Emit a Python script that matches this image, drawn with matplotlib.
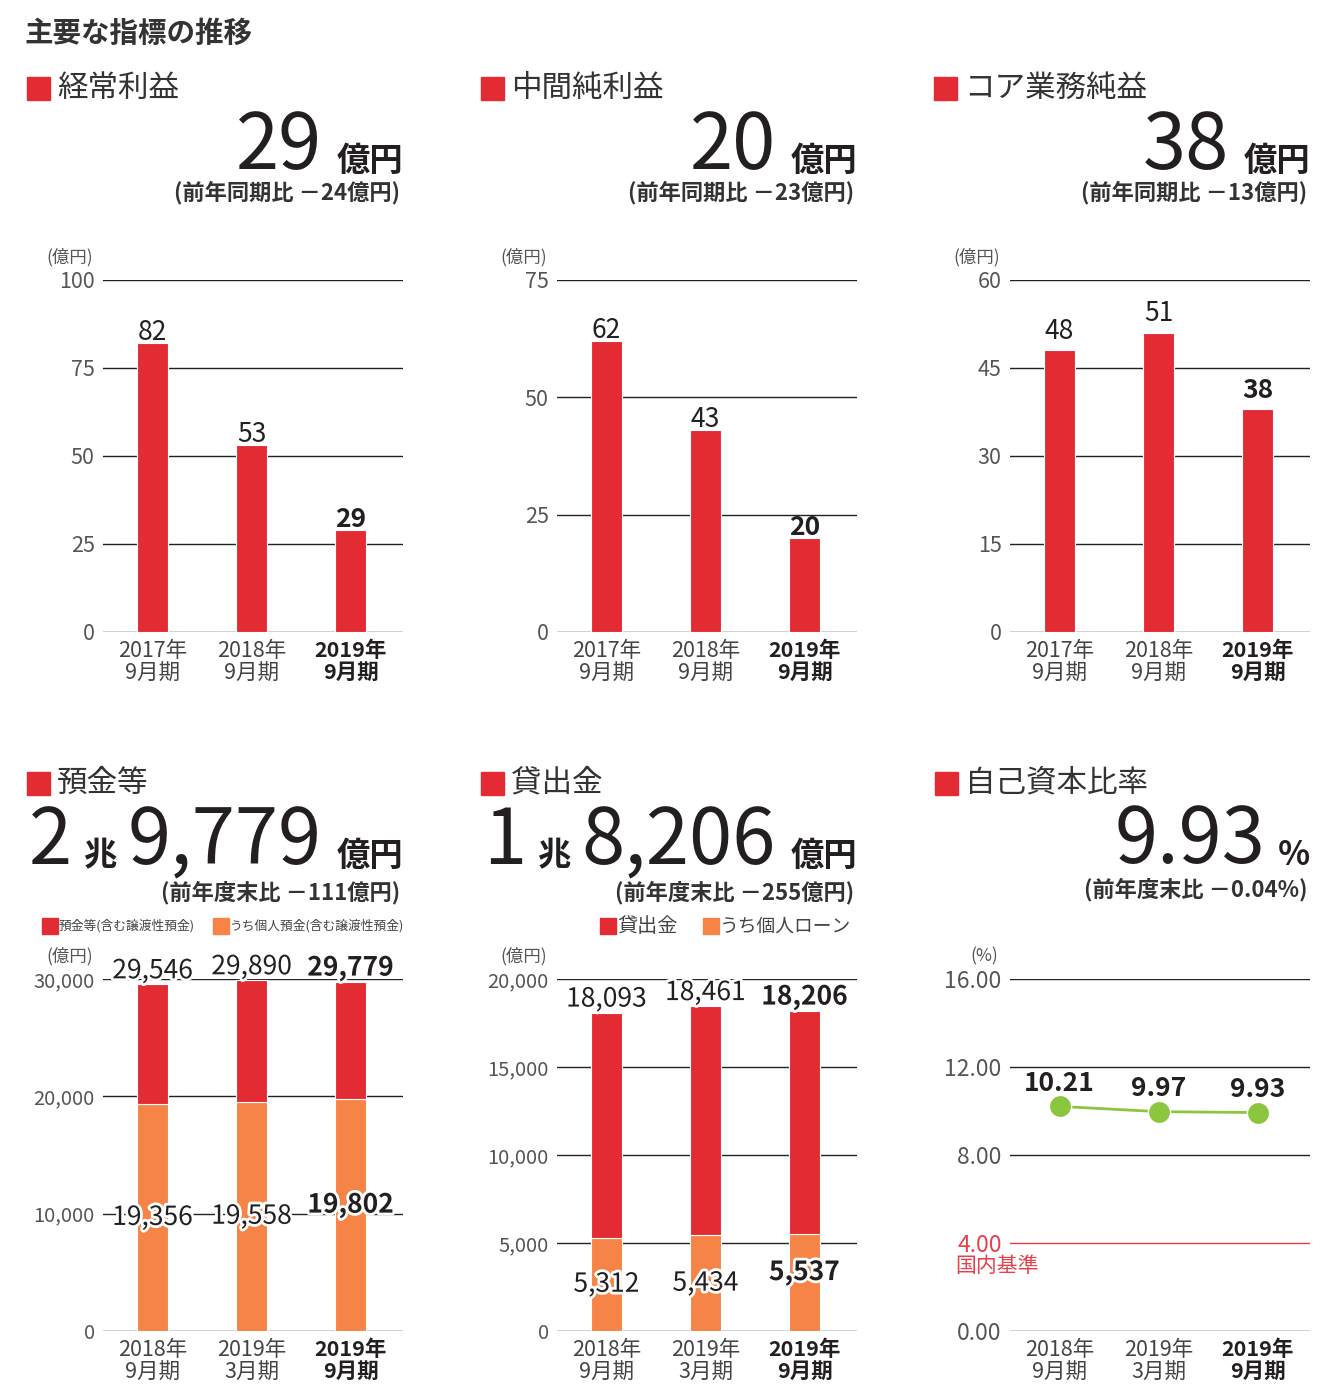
import matplotlib
matplotlib.use("Agg")
import matplotlib.pyplot as plt
import matplotlib.patheffects as pe

plt.rcParams['font.family'] = ['Noto Sans CJK JP', 'DejaVu Sans']

# データ
years_top = ["2017年\n9月期", "2018年\n9月期", "2019年\n9月期"]
years_bottom = ["2018年\n9月期", "2019年\n3月期", "2019年\n9月期"]
ordinary_profit = [82, 53, 29]
interim_net = [62, 43, 20]
core_profit = [48, 51, 38]
deposits = [29546, 29890, 29779]
personal_deposits = [19356, 19558, 19802]
loans = [18093, 18461, 18206]
personal_loans = [5312, 5434, 5537]
capital_ratio = [10.21, 9.97, 9.93]

RED = '#e32b33'
ORANGE = '#f58446'
GREEN = '#8cc63f'
DARK = '#231f20'
GRAY = '#555555'
LINE_RED = '#e8404a'

W, H = 1335, 1393
fig = plt.figure(figsize=(W / 100, H / 100), dpi=100)


def fx(x):
    return x / W


def fy(y):
    return 1 - y / H


def make_axes(left_px, top_px, ylim, yticks, fmt, xlabels, tick_size):
    ax = fig.add_axes([fx(left_px), fy(top_px + 352), 300 / W, 352 / H])
    ax.set_xlim(-0.5, 2.53)
    ax.set_ylim(*ylim)
    for s in ax.spines.values():
        s.set_visible(False)
    ax.set_yticks(yticks)
    ax.set_yticklabels([fmt(v) for v in yticks])
    ax.tick_params(axis='y', length=0, pad=6, labelsize=tick_size, labelcolor=GRAY)
    ax.set_xticks(range(3))
    ax.set_xticklabels(xlabels, linespacing=1.05)
    ax.tick_params(axis='x', length=0, pad=6, labelsize=15.5, labelcolor='#444444')
    ax.get_xticklabels()[-1].set_fontweight('bold')
    ax.get_xticklabels()[-1].set_color(DARK)
    ax.yaxis.grid(True, color='#222222', linewidth=1.0)
    ax.set_axisbelow(True)
    return ax


def section(x_px, y_px, title):
    fig.patches.append(plt.Rectangle((fx(x_px), fy(y_px + 12)), 23 / W, 23 / H,
                                     transform=fig.transFigure, color=RED))
    fig.text(fx(x_px + 30), fy(y_px), title, fontsize=22, color='#333333', va='center')


halo = [pe.withStroke(linewidth=4, foreground='white')]

# 見出し
fig.text(fx(25), fy(34), "主要な指標の推移", fontsize=20.5, fontweight='bold', color='#333333', va='center')

# ---- 上段 ----
top_panels = [
    (103, "経常利益", "29", "(前年同期比 －24億円)", ordinary_profit, (0, 100), [0, 25, 50, 75, 100], -2),
    (557, "中間純利益", "20", "(前年同期比 －23億円)", interim_net, (0, 75), [0, 25, 50, 75], -2),
    (1010, "コア業務純益", "38", "(前年同期比 －13億円)", core_profit, (0, 60), [0, 15, 30, 45, 60], 4),
]
for left, title, big, sub, values, ylim, ticks, lift in top_panels:
    right = left + 300
    section(left - 76, 88, title)
    fig.text(fx(right - 81), fy(169), big, fontsize=56, color=DARK, ha='right', va='baseline')
    fig.text(fx(right), fy(171), "億円", fontsize=24, fontweight='bold', color=DARK, ha='right', va='baseline')
    fig.text(fx(right - 3), fy(193), sub, fontsize=16, fontweight='bold', color='#333333', ha='right', va='center')
    fig.text(fx(left - 10), fy(257), "(億円)", fontsize=12.5, color=GRAY, ha='right', va='center')
    ax = make_axes(left, 280, ylim, ticks, lambda v: f"{v}", years_top, 15.5)
    ax.bar(range(3), values, width=0.31, color=RED, edgecolor='white', linewidth=0.8)
    for i, v in enumerate(values):
        ax.annotate(f"{v}", (i, v), xytext=(0, lift), textcoords='offset points',
                    ha='center', va='bottom', fontsize=19, color=DARK,
                    fontweight='bold' if i == 2 else 'normal')

# ---- 下段 ----
section(27, 783, "預金等")
section(481, 783, "貸出金")
section(935, 783, "自己資本比率")

# 預金等
fig.text(fx(29), fy(864), "2", fontsize=56, color=DARK, ha='left', va='baseline')
fig.text(fx(83), fy(865), "兆", fontsize=24, fontweight='bold', color=DARK, ha='left', va='baseline')
fig.text(fx(322), fy(864), "9,779", fontsize=56, color=DARK, ha='right', va='baseline')
fig.text(fx(403), fy(866), "億円", fontsize=24, fontweight='bold', color=DARK, ha='right', va='baseline')
fig.text(fx(400), fy(893), "(前年度末比 －111億円)", fontsize=16, fontweight='bold', color='#333333', ha='right', va='center')

# 貸出金
fig.text(fx(483), fy(864), "1", fontsize=56, color=DARK, ha='left', va='baseline')
fig.text(fx(537), fy(865), "兆", fontsize=24, fontweight='bold', color=DARK, ha='left', va='baseline')
fig.text(fx(776), fy(864), "8,206", fontsize=56, color=DARK, ha='right', va='baseline')
fig.text(fx(857), fy(866), "億円", fontsize=24, fontweight='bold', color=DARK, ha='right', va='baseline')
fig.text(fx(854), fy(893), "(前年度末比 －255億円)", fontsize=16, fontweight='bold', color='#333333', ha='right', va='center')

# 自己資本比率
fig.text(fx(1266), fy(863), "9.93", fontsize=56, color=DARK, ha='right', va='baseline')
fig.text(fx(1310), fy(865), "%", fontsize=24, fontweight='bold', color=DARK, ha='right', va='baseline')
fig.text(fx(1307), fy(890), "(前年度末比 －0.04%)", fontsize=16, fontweight='bold', color='#333333', ha='right', va='center')


def legend_item(x_px, y_px, color, label, size):
    fig.patches.append(plt.Rectangle((fx(x_px), fy(y_px + 8)), 16 / W, 16 / H,
                                     transform=fig.transFigure, color=color))
    fig.text(fx(x_px + 17), fy(y_px), label, fontsize=size, color='#444444', va='center')


legend_item(42, 926, RED, "預金等(含む譲渡性預金)", 9.2)
legend_item(213, 926, ORANGE, "うち個人預金(含む譲渡性預金)", 9.2)
legend_item(600, 926, RED, "貸出金", 14.5)
legend_item(703, 926, ORANGE, "うち個人ローン", 13.5)

fig.text(fx(93), fy(956), "(億円)", fontsize=12.5, color=GRAY, ha='right', va='center')
fig.text(fx(547), fy(956), "(億円)", fontsize=12.5, color=GRAY, ha='right', va='center')
fig.text(fx(998), fy(956), "(%)", fontsize=12.5, color=GRAY, ha='right', va='center')

stack_panels = [
    (103, deposits, personal_deposits, (0, 30000), [0, 10000, 20000, 30000]),
    (557, loans, personal_loans, (0, 20000), [0, 5000, 10000, 15000, 20000]),
]
for left, totals, personal, ylim, ticks in stack_panels:
    ax = make_axes(left, 979, ylim, ticks, lambda v: f"{v:,}", years_bottom, 14.5)
    rest = [t - p for t, p in zip(totals, personal)]
    ax.bar(range(3), personal, width=0.31, color=ORANGE, edgecolor='white', linewidth=0.8)
    ax.bar(range(3), rest, bottom=personal, width=0.31, color=RED, edgecolor='white', linewidth=0.8)
    for i in range(3):
        w = 'bold' if i == 2 else 'normal'
        ax.annotate(f"{totals[i]:,}", (i, totals[i]), xytext=(0, 0), textcoords='offset points',
                    ha='center', va='bottom', fontsize=19, color=DARK, fontweight=w,
                    path_effects=halo)
        ax.annotate(f"{personal[i]:,}", (i, personal[i] / 2), xytext=(0, 7 if i == 2 else 0),
                    textcoords='offset points', ha='center', va='center',
                    fontsize=19, color=DARK, fontweight=w, path_effects=halo)

# 自己資本比率 折れ線
ax = make_axes(1010, 979, (0, 16), [0, 4, 8, 12, 16], lambda v: f"{v:.2f}", years_bottom, 16.5)
ax.get_ygridlines()[1].set_color(LINE_RED)
ax.get_yticklabels()[1].set_color(LINE_RED)
fig.text(fx(955), fy(1266), "国内基準", fontsize=15, color=LINE_RED, ha='left', va='center')
ax.plot(range(3), capital_ratio, color=GREEN, linewidth=2, marker='o', markersize=16,
        markerfacecolor=GREEN, markeredgecolor='white', markeredgewidth=1)
for i, v in enumerate(capital_ratio):
    ax.annotate(f"{v:.2f}", (i, v), xytext=(0, 7), textcoords='offset points',
                ha='center', va='bottom', fontsize=19, color=DARK, fontweight='bold')

fig.savefig("out.png", dpi=100)
